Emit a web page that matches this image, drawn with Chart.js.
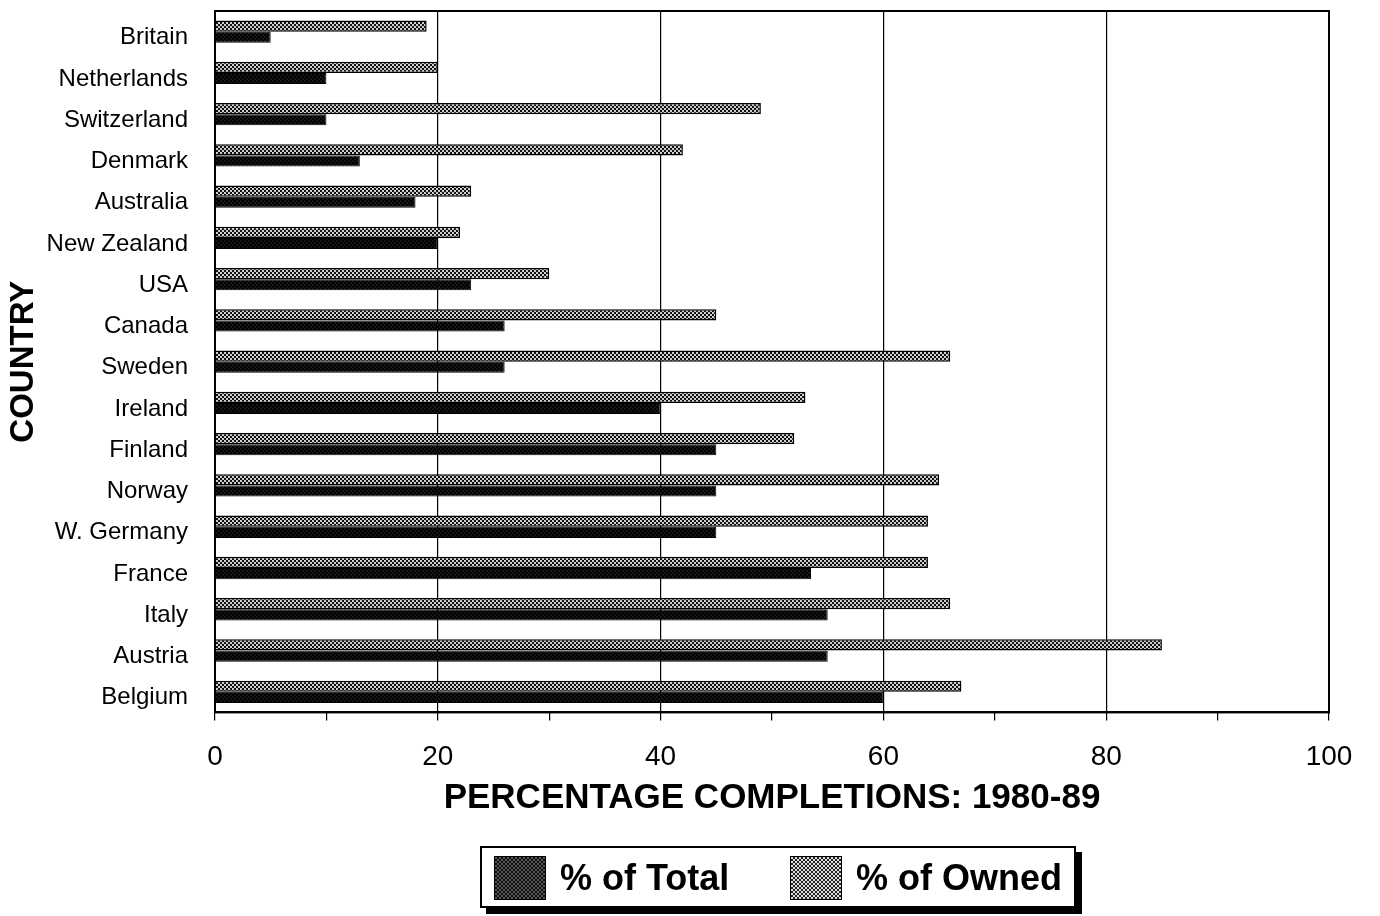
<!DOCTYPE html>
<html>
<head>
<meta charset="utf-8">
<script src="https://cdn.jsdelivr.net/npm/chart.js@4.4.1/dist/chart.umd.min.js"></script>
<style>
  html, body { margin: 0; padding: 0; background: #fff; }
  #wrap { position: relative; width: 1380px; height: 916px; }
  #legend {
    position: absolute; left: 480px; top: 846px; width: 596px; height: 62px;
    border: 2px solid #000; background: #fff; box-sizing: border-box;
    box-shadow: 6px 6px 0 #000;
    font: bold 36px "Liberation Sans", Arial, sans-serif; color: #000;
  }
  .item { position: absolute; top: 8px; height: 44px; display: flex; align-items: center; }
  .item canvas { border: 1px solid #000; margin-right: 14px; }
</style>
</head>
<body>
<div id="wrap">
  <canvas id="chart" width="1380" height="916"></canvas>
  <div id="legend">
    <div class="item" style="left:12px"><canvas id="swTotal" width="50" height="42"></canvas><span>% of Total</span></div>
    <div class="item" style="left:308px"><canvas id="swOwned" width="50" height="42"></canvas><span>% of Owned</span></div>
  </div>
</div>
<script>
  // data
  const countries = ['Britain', 'Netherlands', 'Switzerland', 'Denmark', 'Australia', 'New Zealand', 'USA',
    'Canada', 'Sweden', 'Ireland', 'Finland', 'Norway', 'W. Germany', 'France', 'Italy', 'Austria', 'Belgium'];
  const pctOwned = [19, 20, 49, 42, 23, 22, 30, 45, 66, 53, 52, 65, 64, 64, 66, 85, 67];
  const pctTotal = [5, 10, 10, 13, 18, 20, 23, 26, 26, 40, 45, 45, 45, 53.5, 55, 55, 60];
  const xTicks = [0, 20, 40, 60, 80, 100];

  const FONT = '"Liberation Sans", Arial, sans-serif';

  // halftone-ish fill tile like the print
  function tile(dark, light, size) {
    const c = document.createElement('canvas');
    c.width = size * 2; c.height = size * 2;
    const g = c.getContext('2d');
    g.fillStyle = dark; g.fillRect(0, 0, c.width, c.height);
    g.fillStyle = light;
    g.fillRect(0, 0, size, size);
    g.fillRect(size, size, size, size);
    return c;
  }
  const ctx = document.getElementById('chart').getContext('2d');
  const ownedFill = ctx.createPattern(tile('#111', '#cfcfcf', 2), 'repeat');
  const totalFill = ctx.createPattern(tile('#000', '#161616', 2), 'repeat');

  // legend swatches
  function paintSwatch(id, dark, light) {
    const g = document.getElementById(id).getContext('2d');
    g.fillStyle = g.createPattern(tile(dark, light, 2), 'repeat');
    g.fillRect(0, 0, 50, 42);
  }
  paintSwatch('swTotal', '#111', '#555');
  paintSwatch('swOwned', '#222', '#ddd');

  // box around the plot area
  const frame = {
    id: 'frame',
    afterDatasetsDraw(chart) {
      const a = chart.chartArea, g = chart.ctx;
      g.save();
      g.strokeStyle = '#000';
      g.lineWidth = 2;
      g.strokeRect(a.left, a.top, a.right - a.left, a.bottom - a.top);
      g.restore();
    }
  };

  new Chart(ctx, {
    type: 'bar',
    data: {
      labels: countries,
      datasets: [
        {
          label: '% of Owned',
          data: pctOwned,
          backgroundColor: ownedFill,
          borderColor: '#000',
          borderWidth: 1.5,
          categoryPercentage: 0.54,
          barPercentage: 1.0
        },
        {
          label: '% of Total',
          data: pctTotal,
          backgroundColor: totalFill,
          borderColor: '#000',
          borderWidth: 1,
          categoryPercentage: 0.54,
          barPercentage: 1.0
        }
      ]
    },
    options: {
      indexAxis: 'y',
      responsive: false,
      animation: false,
      layout: { padding: { top: 11, right: 51, bottom: 97, left: 0 } },
      scales: {
        x: {
          min: 0,
          max: 100,
          ticks: {
            stepSize: 10,
            autoSkip: false,
            padding: 20,
            color: '#000',
            font: { family: FONT, size: 28 },
            callback: (v) => xTicks.includes(v) ? v : ''
          },
          grid: {
            color: (c) => (c.tick && c.tick.value % 20 === 0) ? '#000' : 'transparent',
            tickColor: '#000',
            tickLength: 8,
            lineWidth: 1.2
          },
          border: { color: '#000', width: 2 },
          title: {
            display: true,
            text: 'PERCENTAGE COMPLETIONS: 1980-89',
            color: '#000',
            font: { family: FONT, size: 35, weight: 'bold' },
            padding: { top: -17, bottom: 0 }
          }
        },
        y: {
          afterFit: (s) => { s.width = 215; s.paddingTop = 0; s.paddingBottom = 0; },
          ticks: {
            padding: 27,
            labelOffset: 6,
            color: '#000',
            font: { family: FONT, size: 24 }
          },
          grid: { display: false, drawTicks: false },
          border: { color: '#000', width: 2 },
          title: {
            display: true,
            text: 'COUNTRY',
            color: '#000',
            font: { family: FONT, size: 33, weight: 'bold' },
            padding: { top: 4, bottom: 0 }
          }
        }
      },
      plugins: {
        legend: { display: false },
        tooltip: { enabled: false }
      }
    },
    plugins: [frame]
  });
</script>
</body>
</html>
